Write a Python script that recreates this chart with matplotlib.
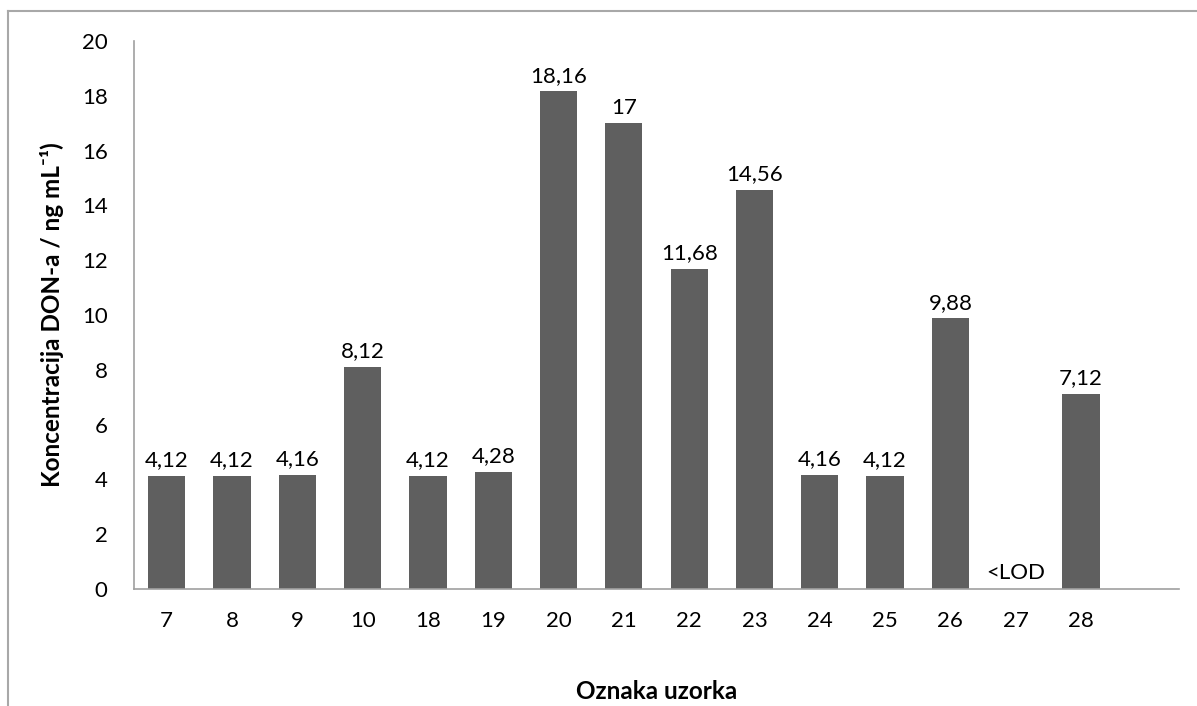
import matplotlib
matplotlib.use("Agg")
import matplotlib.pyplot as plt
from matplotlib.lines import Line2D

# sample labels and DON concentrations (ng/mL); 27 is below LOD
samples = ["7", "8", "9", "10", "18", "19", "20", "21", "22", "23",
           "24", "25", "26", "27", "28", ""]
values = [4.12, 4.12, 4.16, 8.12, 4.12, 4.28, 18.16, 17, 11.68, 14.56,
          4.16, 4.12, 9.88, 0, 7.12, 0]
labels = ["4,12", "4,12", "4,16", "8,12", "4,12", "4,28", "18,16", "17",
          "11,68", "14,56", "4,16", "4,12", "9,88", "<LOD", "7,12", ""]
yticks = [0, 2, 4, 6, 8, 10, 12, 14, 16, 18, 20]

plt.rcParams['font.family'] = ['Lato', 'DejaVu Sans']

fig = plt.figure(figsize=(11.97, 7.06), dpi=100)
ax = fig.add_axes([134 / 1197, 117 / 706, 1045 / 1197, 548 / 706])

x = list(range(len(samples)))
bars = ax.bar(x, values, width=0.57, color="#5f5f5f")

for i, (v, lab) in enumerate(zip(values, labels)):
    if lab:
        ax.annotate(lab, (i, v), xytext=(0, 4), textcoords="offset points",
                    ha="center", va="bottom", fontsize=16)

ax.set_xlim(-0.5, len(samples) - 0.5)
ax.set_ylim(0, 20)
ax.set_xticks(x)
ax.set_xticklabels(samples)
ax.set_yticks(yticks)
ax.tick_params(axis="both", length=0, labelsize=16)
ax.tick_params(axis="y", pad=19)
ax.tick_params(axis="x", pad=16)

for s in ["top", "right"]:
    ax.spines[s].set_visible(False)
for s in ["left", "bottom"]:
    ax.spines[s].set_color("#a0a0a0")
    ax.spines[s].set_linewidth(1.2)

ax.set_xlabel("Oznaka uzorka", fontsize=17.5, fontweight="bold", labelpad=35)
ax.set_ylabel("Koncentracija DON-a / ng mL\u207b\u00b9)", fontsize=17.5,
              fontweight="bold", labelpad=13)

# outer chart frame
fig.add_artist(Line2D([8 / 1197, 1], [1 - 11 / 706, 1 - 11 / 706],
                      color="#a8a8a8", lw=1.5, transform=fig.transFigure))
fig.add_artist(Line2D([8 / 1197, 8 / 1197], [0, 1 - 11 / 706],
                      color="#a8a8a8", lw=1.5, transform=fig.transFigure))

fig.savefig("out.png", dpi=100)
